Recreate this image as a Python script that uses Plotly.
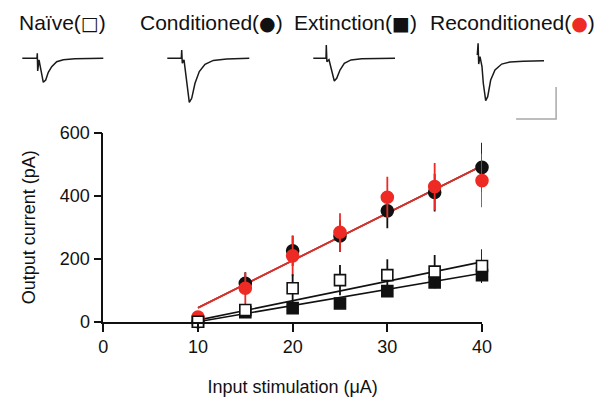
import plotly.graph_objects as go

W, H = 606, 398

# ---------------- data ----------------
stim = [10, 15, 20, 25, 30, 35, 40]
naive = [0, 37, 106, 132, 148, 159, 177]
naive_err = [3, 8, 45, 48, 50, 53, 53]
conditioned = [0, 122, 225, 272, 352, 410, 490]
conditioned_err = [5, 35, 48, 50, 55, 60, 78]
extinction = [0, 30, 43, 58, 97, 125, 148]
extinction_err = [3, 5, 10, 12, 15, 18, 25]
reconditioned = [15, 106, 209, 284, 395, 429, 448]
reconditioned_err = [5, 50, 65, 60, 65, 75, 85]

fit_x = [10, 40]
fit_naive = [5, 190]
fit_conditioned = [44, 495]
fit_extinction = [0, 154]
fit_reconditioned = [44, 495]

x_ticks = [0, 10, 20, 30, 40]
y_ticks = [0, 200, 400, 600]

header_names = ["Naïve", "Conditioned", "Extinction", "Reconditioned"]
header_symbols = ["□", "●", "■", "●"]
header_colors = ["#111111", "#111111", "#111111", "#ee2a24"]

# example current traces (time in ms, current in pA)
naive_t = [0, 7.35, 7.5, 7.7, 8.35, 9.35, 10.5, 11.7, 13, 14.7, 17.2, 20.5, 26.3, 40.5]
naive_i = [0, 0, 31, -79, -10, -83, -150, -136, -88, -52, -21, -9, -3, 0]
cond_t = [0, 7.0, 7.2, 7.5, 8.35, 9.35, 11, 12.2, 13.85, 16, 18.85, 23, 29.7, 41]
cond_i = [0, 0, 52, -31, -10, -104, -275, -250, -156, -83, -38, -13, -4, 0]
ext_t = [0, 6.35, 6.5, 6.8, 7.85, 9.2, 10.5, 11.7, 13.35, 15.5, 18.85, 24.2, 40.85]
ext_i = [0, 0, 83, -21, -9, -73, -142, -125, -73, -31, -10, -3, 0]
recond_t = [7.0, 7.4, 7.7, 8.35, 9.35, 10, 11.2, 12.2, 13.7, 15.85, 19.2, 23.35, 30, 40.35]
recond_i = [21, 94, -36, 10, -52, -156, -265, -240, -136, -73, -36, -23, -19, -15]
scale_ms = 20
scale_pA = 200

# ---------------- figure ----------------
RED = "#ee2a24"
BLK = "#111111"
FONT = "Liberation Sans, Arial, Helvetica, sans-serif"

fig = go.Figure()

# fit lines
fig.add_trace(go.Scatter(x=fit_x, y=fit_extinction, mode="lines",
                         line=dict(color=BLK, width=1.6), showlegend=False))
fig.add_trace(go.Scatter(x=fit_x, y=fit_naive, mode="lines",
                         line=dict(color=BLK, width=1.6), showlegend=False))
fig.add_trace(go.Scatter(x=fit_x, y=fit_conditioned, mode="lines",
                         line=dict(color=BLK, width=1.6), showlegend=False))
fig.add_trace(go.Scatter(x=fit_x, y=fit_reconditioned, mode="lines",
                         line=dict(color=RED, width=1.8), showlegend=False))


def pts(y, err, color, symbol, size, fill, name):
    return go.Scatter(
        x=stim, y=y, mode="markers", name=name, showlegend=False,
        cliponaxis=False,
        error_y=dict(type="data", array=err, visible=True, color=color,
                     thickness=1.8, width=0),
        marker=dict(symbol=symbol, size=size, color=fill,
                    line=dict(color=color, width=1.6)),
    )


fig.add_trace(pts(extinction, extinction_err, BLK, "square", 11, BLK, "Extinction"))
fig.add_trace(pts(conditioned, conditioned_err, BLK, "circle", 12, BLK, "Conditioned"))
fig.add_trace(pts(reconditioned, reconditioned_err, RED, "circle", 12, RED, "Reconditioned"))
fig.add_trace(pts(naive, naive_err, BLK, "square", 11, "white", "Naïve"))

# main axes placement (pixel based)
x0px, x1px = 103.3, 482.0
y0px, y1px = 321.7, 132.7
fig.update_layout(
    xaxis=dict(domain=[x0px / W, x1px / W], range=[0, 40], tickvals=x_ticks,
               showline=True, linecolor=BLK, linewidth=1.6, ticks="outside",
               ticklen=8, tickwidth=1.6, tickcolor=BLK, showgrid=False,
               zeroline=False, tickfont=dict(size=18, color=BLK, family=FONT),
               title=dict(text="Input stimulation (μA)", standoff=24,
                          font=dict(size=18, color=BLK, family=FONT)),
               anchor="y", automargin=False),
    yaxis=dict(domain=[1 - y0px / H, 1 - y1px / H], range=[0, 600], tickvals=y_ticks,
               showline=True, linecolor=BLK, linewidth=1.6, ticks="outside",
               ticklen=8, tickwidth=1.6, tickcolor=BLK, showgrid=False,
               zeroline=False, tickfont=dict(size=18, color=BLK, family=FONT),
               title=dict(text="Output current (pA)", standoff=20,
                          font=dict(size=18, color=BLK, family=FONT)),
               anchor="x", automargin=False),
)

# example current traces in small axes
trace_sets = [(naive_t, naive_i, 22.3), (cond_t, cond_i, 167.3),
              (ext_t, ext_i, 313.3), (recond_t, recond_i, 463.3)]
base_px = 58.3
t_range = [-3, 50]
i_range = [-400, 100]
px_per_ms = 2.0
px_per_pA = 0.16
for k, (tt, ii, start_px) in enumerate(trace_sets, start=2):
    left = start_px + t_range[0] * px_per_ms
    right = left + (t_range[1] - t_range[0]) * px_per_ms
    top = base_px - i_range[1] * px_per_pA
    bottom = base_px - i_range[0] * px_per_pA
    fig.add_trace(go.Scatter(x=tt, y=ii, mode="lines", xaxis=f"x{k}", yaxis=f"y{k}",
                             line=dict(color="#1a1a1a", width=1.5), showlegend=False,
                             cliponaxis=False))
    fig.layout[f"xaxis{k}"] = dict(domain=[left / W, right / W], range=t_range,
                                   visible=False, anchor=f"y{k}", fixedrange=True)
    fig.layout[f"yaxis{k}"] = dict(domain=[1 - bottom / H, 1 - top / H], range=i_range,
                                   visible=False, anchor=f"x{k}", fixedrange=True)
    if k == 5:
        sb_t = 46.4
        sb_i = -380
        fig.add_trace(go.Scatter(x=[sb_t - scale_ms, sb_t, sb_t],
                                 y=[sb_i, sb_i, sb_i + scale_pA], mode="lines",
                                 xaxis=f"x{k}", yaxis=f"y{k}", cliponaxis=False,
                                 line=dict(color="#a8a8a8", width=1.5), showlegend=False))

# headers
centers = [62.8, 211.0, 355.8, 512.5]
for name, sym, col, cx in zip(header_names, header_symbols, header_colors, centers):
    txt = (f"{name}(<span style='font-family:DejaVu Sans;font-size:19px;color:{col}'>"
           f"{sym}</span>)")
    fig.add_annotation(text=txt, x=cx / W, y=1 - 22.7 / H, xref="paper", yref="paper",
                       showarrow=False, xanchor="center", yanchor="middle",
                       font=dict(size=21, color=BLK, family=FONT))

fig.update_layout(width=W, height=H, autosize=False,
                  margin=dict(l=0, r=0, t=0, b=0),
                  paper_bgcolor="white", plot_bgcolor="white",
                  font=dict(family=FONT, color=BLK))

fig.write_html("out.html")
